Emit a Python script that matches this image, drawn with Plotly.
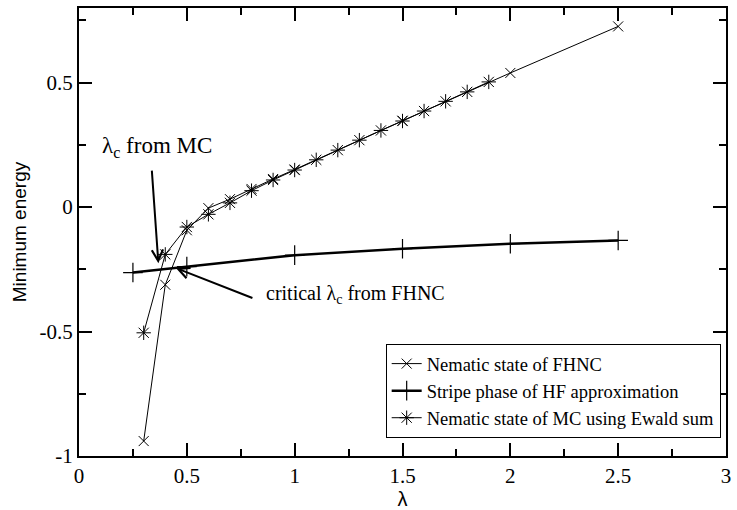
import plotly.graph_objects as go

# Data
fhnc_x = [0.3, 0.4, 0.5, 0.6, 0.7, 0.8, 0.9, 1.0, 1.5, 2.0, 2.5]
fhnc_y = [-0.94, -0.312, -0.093, -0.004, 0.032, 0.073, 0.113, 0.151, 0.347, 0.539, 0.726]

hf_x = [0.25, 0.5, 1.0, 1.5, 2.0, 2.5]
hf_y = [-0.263, -0.239, -0.193, -0.167, -0.147, -0.134]

mc_x = [0.3, 0.4, 0.5, 0.6, 0.7, 0.8, 0.9, 1.0, 1.1, 1.2, 1.3, 1.4, 1.5, 1.6, 1.7, 1.8, 1.9]
mc_y = [-0.505, -0.19, -0.08, -0.029, 0.017, 0.066, 0.109, 0.149, 0.19, 0.229, 0.269,
        0.308, 0.346, 0.386, 0.425, 0.463, 0.503]

x_ticks = [0, 0.5, 1, 1.5, 2, 2.5, 3]
x_ticktext = ["0", "0.5", "1", "1.5", "2", "2.5", "3"]
y_ticks = [-1, -0.5, 0, 0.5]
y_ticktext = ["-1", "-0.5", "0", "0.5"]

SERIF = "Liberation Serif"
SANS = "Liberation Sans"

fig = go.Figure()
fig.add_trace(go.Scatter(
    x=fhnc_x, y=fhnc_y, mode="lines+markers", name="Nematic state of FHNC",
    line=dict(color="black", width=1),
    marker=dict(symbol="x-thin-open", size=10, color="black", line=dict(color="black", width=1)),
))
fig.add_trace(go.Scatter(
    x=hf_x, y=hf_y, mode="lines+markers", name="Stripe phase of HF approximation",
    line=dict(color="black", width=2.5),
    marker=dict(symbol="cross-thin-open", size=14, color="black", line=dict(color="black", width=1.2)),
))
fig.add_trace(go.Scatter(
    x=mc_x, y=mc_y, mode="lines+markers", name="Nematic state of MC using Ewald sum",
    line=dict(color="black", width=1),
    marker=dict(symbol="asterisk-open", size=12, color="black", line=dict(color="black", width=1)),
))

# Annotations
fig.add_annotation(x=0.097, y=0.24, xref="x", yref="y", text="λ<sub>c</sub> from MC",
                   showarrow=False, xanchor="left", yanchor="middle",
                   font=dict(family=SERIF, size=23, color="black"))
fig.add_annotation(x=0.368, y=-0.226, ax=0.335, ay=0.181, xref="x", yref="y",
                   axref="x", ayref="y", text=" ", showarrow=True,
                   arrowhead=5, arrowsize=1.1, arrowwidth=2, arrowcolor="black")
fig.add_annotation(x=0.856, y=-0.35, xref="x", yref="y", text="critical λ<sub>c</sub> from FHNC",
                   showarrow=False, xanchor="left", yanchor="middle",
                   font=dict(family=SERIF, size=20, color="black"))
fig.add_annotation(x=0.449, y=-0.245, ax=0.818, ay=-0.370, xref="x", yref="y",
                   axref="x", ayref="y", text=" ", showarrow=True,
                   arrowhead=5, arrowsize=1.1, arrowwidth=2, arrowcolor="black")

axis_common = dict(
    showline=True, linecolor="black", linewidth=2, mirror="allticks",
    ticks="inside", ticklen=13, tickwidth=1.5, tickcolor="black",
    showgrid=False, zeroline=False,
    tickfont=dict(family=SERIF, size=21, color="black"),
)

fig.update_xaxes(
    range=[0, 3], tickmode="array", tickvals=x_ticks, ticktext=x_ticktext,
    minor=dict(ticks="inside", ticklen=7, dtick=0.25, tick0=0, tickcolor="black", tickwidth=1.5),
    title=dict(text="λ", font=dict(family=SANS, size=20, color="black"), standoff=2),
    **axis_common,
)
fig.update_yaxes(
    range=[-1, 0.8], tickmode="array", tickvals=y_ticks, ticktext=y_ticktext,
    minor=dict(ticks="inside", ticklen=7, dtick=0.25, tick0=0, tickcolor="black", tickwidth=1.5),
    title=dict(text="Minimum energy", font=dict(family=SANS, size=19, color="black"), standoff=8),
    **axis_common,
)

fig.update_layout(
    width=737, height=510,
    margin=dict(l=79, r=6, t=8, b=45),
    plot_bgcolor="white", paper_bgcolor="white",
    font=dict(family=SERIF, color="black"),
    showlegend=True,
    legend=dict(
        x=0.474, y=0.04, xanchor="left", yanchor="bottom",
        bgcolor="white", bordercolor="black", borderwidth=1,
        font=dict(family=SERIF, size=18.5, color="black"),
        tracegroupgap=0, itemwidth=30,
    ),
)

fig.write_html("out.html")
